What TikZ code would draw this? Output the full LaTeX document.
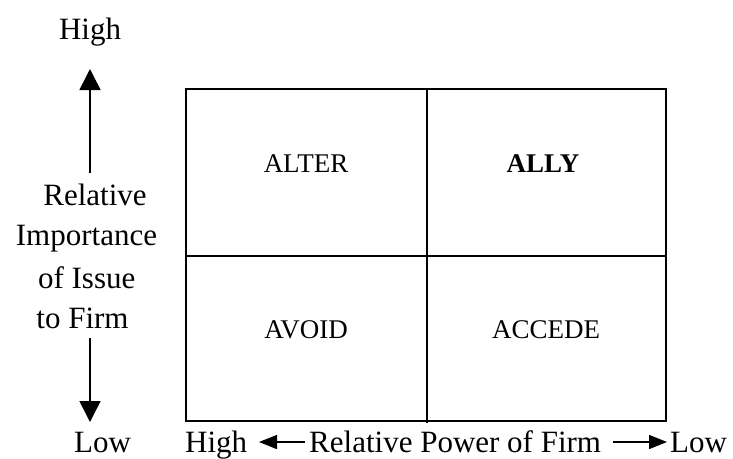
\documentclass[tikz,border=0pt]{standalone}
\usepackage{fontspec}
\setmainfont{Liberation Serif}
\usetikzlibrary{arrows.meta}
\begin{document}
\begin{tikzpicture}[x=1pt,y=-1pt,
  lbl/.style={inner sep=0pt,font=\fontsize{31}{37}\selectfont},
  celltxt/.style={inner sep=0pt,anchor=base,font=\fontsize{27}{32}\selectfont},
  grid/.style={line width=1.5pt},
  varrow/.style={line width=1.5pt,-{Triangle[length=21pt,width=21pt]}},
  harrow/.style={line width=1.5pt,-{Triangle[length=18pt,width=14pt]}}]
\useasboundingbox (0,0) rectangle (733,458);
% grid
\coordinate (tl) at (186,89);
\coordinate (br) at (666,421);
\draw[grid] (tl) rectangle (br);
\coordinate (vt) at (427,89);
\coordinate (vb) at (427,423);
\coordinate (hl) at (186,256);
\coordinate (hr) at (666,256);
\draw[grid] (vt) -- (vb);
\draw[grid] (hl) -- (hr);
% cell texts
\node[celltxt] (alter) at (306,172) {ALTER};
\node[celltxt] (ally) at (543,172) {\bfseries ALLY};
\node[celltxt] (avoid) at (306,338) {AVOID};
\node[celltxt] (accede) at (546,338) {ACCEDE};
% left axis
\node[lbl,anchor=base] (vhigh) at (90,39) {High};
\node[lbl,anchor=base] (rel1) at (95,205) {Relative};
\node[lbl,anchor=base] (rel2) at (86.5,245) {Importance};
\node[lbl,anchor=base] (rel3) at (86.7,288) {of Issue};
\node[lbl,anchor=base] (rel4) at (82.5,328) {to Firm};
\node[lbl,anchor=base,text depth=0pt] (vlow) at (102.5,452) {Low};
\coordinate (upS) at (90,173);
\coordinate (upE) at (90,69);
\coordinate (dnS) at (90,338);
\coordinate (dnE) at (90,422);
\draw[varrow] (upS) -- (upE);
\draw[varrow] (dnS) -- (dnE);
% bottom axis
\node[lbl,anchor=base west] (hhigh) at (185,452) {High};
\node[lbl,anchor=base west,text depth=0pt] (hmid) at (309,452) {Relative Power of Firm};
\node[lbl,anchor=base west,text depth=0pt] (hlow) at (670,452) {Low};
\coordinate (lS) at (305,442);
\coordinate (lE) at (259,442);
\coordinate (rS) at (613,442);
\coordinate (rE) at (667,442);
\draw[harrow] (lS) -- (lE);
\draw[harrow] (rS) -- (rE);
\end{tikzpicture}
\end{document}
